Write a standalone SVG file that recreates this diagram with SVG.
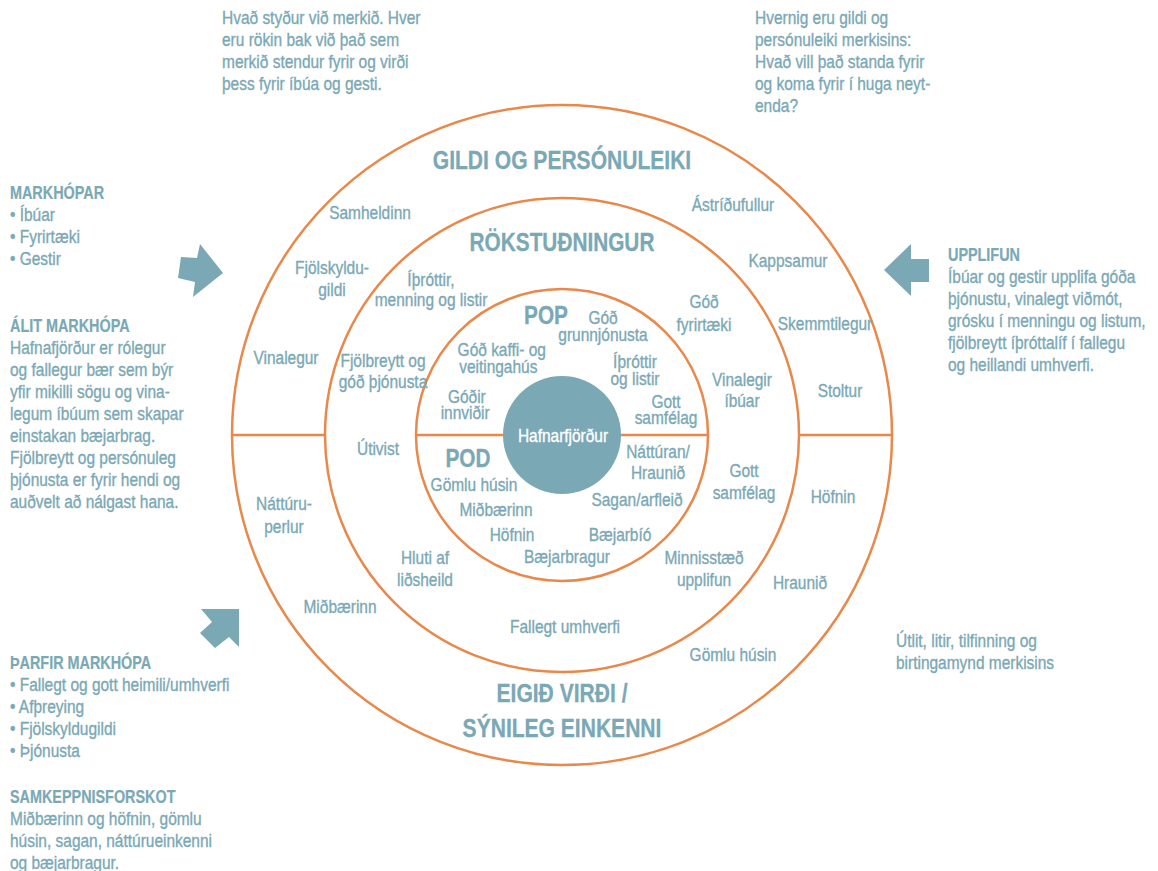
<svg xmlns="http://www.w3.org/2000/svg" width="1158" height="871" viewBox="0 0 1158 871">
<style>
text{font-family:"Liberation Sans",Arial,sans-serif;font-size:18px;fill:#7aa8b5;stroke:#7aa8b5;stroke-width:0.35px}
.c{text-anchor:middle}
.b{font-weight:bold;font-size:18px;stroke-width:0.2px}
.h{font-weight:bold;font-size:26px;text-anchor:middle;stroke-width:0.3px}
.w{fill:#fff;stroke:#fff}
.ring{fill:none;stroke:#e8894b;stroke-width:2.5}
.arrow{fill:#7aa8b5}
</style>
<rect width="1158" height="871" fill="#fff"/>
<g id="rings">
<circle class="ring" cx="562" cy="435" r="330"/>
<circle class="ring" cx="562" cy="435" r="237"/>
<circle class="ring" cx="562" cy="435" r="146"/>
<line class="ring" x1="232" y1="435" x2="325" y2="435"/>
<line class="ring" x1="416" y1="435" x2="504" y2="435"/>
<line class="ring" x1="620" y1="435" x2="708" y2="435"/>
<line class="ring" x1="799" y1="435" x2="892" y2="435"/>
</g>
<g id="center">
<circle cx="562" cy="435" r="59" fill="#7aa8b5"/>
<text class="c w" transform="translate(563 442) scale(.86 1)">Hafnarfjörður</text>
</g>
<g id="arrows">
<polygon class="arrow" points="181,257 197,258 200,244 223,273 193,297 195,282 178,278"/>
<polygon class="arrow" points="201,609 239,609 239,647 229,637 215,648 200,633 212,622"/>
<polygon class="arrow" points="884,270 911,244 911,259 929,259 929,282 911,282 911,296"/>
</g>
<g id="note-top-left">
<text transform="translate(222 24) scale(.86 1)"><tspan x="0">Hvað styður við merkið. Hver</tspan><tspan x="0" dy="22">eru rökin bak við það sem</tspan><tspan x="0" dy="22">merkið stendur fyrir og virði</tspan><tspan x="0" dy="22">þess fyrir íbúa og gesti.</tspan></text>
</g>
<g id="note-top-right">
<text transform="translate(755 24) scale(.86 1)"><tspan x="0">Hvernig eru gildi og</tspan><tspan x="0" dy="22">persónuleiki merkisins:</tspan><tspan x="0" dy="22">Hvað vill það standa fyrir</tspan><tspan x="0" dy="22">og koma fyrir í huga neyt-</tspan><tspan x="0" dy="22">enda?</tspan></text>
</g>
<g id="markhopar">
<text class="b" transform="translate(10 199) scale(.8 1)">MARKHÓPAR</text>
<text transform="translate(10 221) scale(.86 1)"><tspan x="0">• Íbúar</tspan><tspan x="0" dy="22">• Fyrirtæki</tspan><tspan x="0" dy="22">• Gestir</tspan></text>
</g>
<g id="alit">
<text class="b" transform="translate(10 332) scale(.8 1)">ÁLIT MARKHÓPA</text>
<text transform="translate(10 354) scale(.86 1)"><tspan x="0">Hafnafjörður er rólegur</tspan><tspan x="0" dy="22">og fallegur bær  sem býr</tspan><tspan x="0" dy="22">yfir mikilli sögu og vina-</tspan><tspan x="0" dy="22">legum íbúum sem skapar</tspan><tspan x="0" dy="22">einstakan bæjarbrag.</tspan><tspan x="0" dy="22">Fjölbreytt og persónuleg</tspan><tspan x="0" dy="22">þjónusta er fyrir hendi og</tspan><tspan x="0" dy="22">auðvelt að nálgast hana.</tspan></text>
</g>
<g id="tharfir">
<text class="b" transform="translate(10 669) scale(.8 1)">ÞARFIR MARKHÓPA</text>
<text transform="translate(10 691) scale(.86 1)"><tspan x="0">• Fallegt og gott heimili/umhverfi</tspan><tspan x="0" dy="22">• Afþreying</tspan><tspan x="0" dy="22">• Fjölskyldugildi</tspan><tspan x="0" dy="22">• Þjónusta</tspan></text>
</g>
<g id="samkeppni">
<text class="b" transform="translate(10 803) scale(.8 1)">SAMKEPPNISFORSKOT</text>
<text transform="translate(10 825) scale(.86 1)"><tspan x="0">Miðbærinn og höfnin, gömlu</tspan><tspan x="0" dy="22">húsin, sagan, náttúrueinkenni</tspan><tspan x="0" dy="22">og bæjarbragur.</tspan></text>
</g>
<g id="upplifun">
<text class="b" transform="translate(948 261) scale(.8 1)">UPPLIFUN</text>
<text transform="translate(948 283) scale(.86 1)"><tspan x="0">Íbúar og gestir upplifa góða</tspan><tspan x="0" dy="22">þjónustu, vinalegt viðmót,</tspan><tspan x="0" dy="22">grósku í menningu og listum,</tspan><tspan x="0" dy="22">fjölbreytt íþróttalíf í fallegu</tspan><tspan x="0" dy="22">og heillandi umhverfi.</tspan></text>
</g>
<g id="note-bottom-right">
<text transform="translate(896 647) scale(.86 1)"><tspan x="0">Útlit, litir, tilfinning og</tspan><tspan x="0" dy="22">birtingamynd merkisins</tspan></text>
</g>
<g id="gildi">
<text class="h" transform="translate(562 169) scale(.81 1)">GILDI OG PERSÓNULEIKI</text>
<text class="c" transform="translate(370 219) scale(.86 1)">Samheldinn</text>
<text class="c" transform="translate(733 211) scale(.86 1)">Ástríðufullur</text>
<text class="c" transform="translate(332 274) scale(.86 1)"><tspan x="0">Fjölskyldu-</tspan><tspan x="0" dy="22">gildi</tspan></text>
<text class="c" transform="translate(788 267) scale(.86 1)">Kappsamur</text>
<text class="c" transform="translate(825 330) scale(.86 1)">Skemmtilegur</text>
<text class="c" transform="translate(286 364) scale(.86 1)">Vinalegur</text>
<text class="c" transform="translate(840 397) scale(.86 1)">Stoltur</text>
</g>
<g id="eigid">
<text class="h" transform="translate(562 702) scale(.81 1)">EIGIÐ VIRÐI /</text>
<text class="h" transform="translate(562 737) scale(.81 1)">SÝNILEG EINKENNI</text>
<text class="c" transform="translate(284 510) scale(.86 1)"><tspan x="0">Náttúru-</tspan><tspan x="0" dy="23">perlur</tspan></text>
<text class="c" transform="translate(833 503) scale(.86 1)">Höfnin</text>
<text class="c" transform="translate(800 589) scale(.86 1)">Hraunið</text>
<text class="c" transform="translate(340 613) scale(.86 1)">Miðbærinn</text>
<text class="c" transform="translate(733 661) scale(.86 1)">Gömlu húsin</text>
</g>
<g id="rokstudningur">
<text class="h" transform="translate(562 251) scale(.8 1)">RÖKSTUÐNINGUR</text>
<text class="c" transform="translate(431 286) scale(.86 1)"><tspan x="0">Íþróttir,</tspan><tspan x="0" dy="20">menning og listir</tspan></text>
<text class="c" transform="translate(704 308) scale(.86 1)"><tspan x="0">Góð</tspan><tspan x="0" dy="23">fyrirtæki</tspan></text>
<text class="c" transform="translate(383 367) scale(.86 1)"><tspan x="0">Fjölbreytt og</tspan><tspan x="0" dy="21">góð þjónusta</tspan></text>
<text class="c" transform="translate(742 386) scale(.86 1)"><tspan x="0">Vinalegir</tspan><tspan x="0" dy="21">íbúar</tspan></text>
<text class="c" transform="translate(378 455) scale(.86 1)">Útivist</text>
<text class="c" transform="translate(744 477) scale(.86 1)"><tspan x="0">Gott</tspan><tspan x="0" dy="22">samfélag</tspan></text>
<text class="c" transform="translate(425 564) scale(.86 1)"><tspan x="0">Hluti af</tspan><tspan x="0" dy="22">liðsheild</tspan></text>
<text class="c" transform="translate(704 564) scale(.86 1)"><tspan x="0">Minnisstæð</tspan><tspan x="0" dy="22">upplifun</tspan></text>
<text class="c" transform="translate(565 633) scale(.86 1)">Fallegt umhverfi</text>
</g>
<g id="pop">
<text class="h" transform="translate(546 324) scale(.8 1)">POP</text>
<text class="c" transform="translate(603 324) scale(.86 1)"><tspan x="0">Góð</tspan><tspan x="0" dy="17">grunnjónusta</tspan></text>
<text class="c" transform="translate(500 356) scale(.86 1)"><tspan x="2">Góð kaffi- og</tspan><tspan x="-2" dy="17">veitingahús</tspan></text>
<text class="c" transform="translate(635 368) scale(.86 1)"><tspan x="0">Íþróttir</tspan><tspan x="0" dy="17">og listir</tspan></text>
<text class="c" transform="translate(466 403) scale(.86 1)"><tspan x="1">Góðir</tspan><tspan x="-1" dy="16">innviðir</tspan></text>
<text class="c" transform="translate(666 408) scale(.86 1)"><tspan x="0">Gott</tspan><tspan x="0" dy="16">samfélag</tspan></text>
</g>
<g id="pod">
<text class="h" transform="translate(468 467) scale(.8 1)">POD</text>
<text class="c" transform="translate(474 491) scale(.86 1)">Gömlu húsin</text>
<text class="c" transform="translate(496 516) scale(.86 1)">Miðbærinn</text>
<text class="c" transform="translate(512 541) scale(.86 1)">Höfnin</text>
<text class="c" transform="translate(567 563) scale(.86 1)">Bæjarbragur</text>
<text class="c" transform="translate(658 458) scale(.86 1)"><tspan x="0">Náttúran/</tspan><tspan x="0" dy="21">Hraunið</tspan></text>
<text class="c" transform="translate(637 506) scale(.86 1)">Sagan/arfleið</text>
<text class="c" transform="translate(620 541) scale(.86 1)">Bæjarbíó</text>
</g>
</svg>
